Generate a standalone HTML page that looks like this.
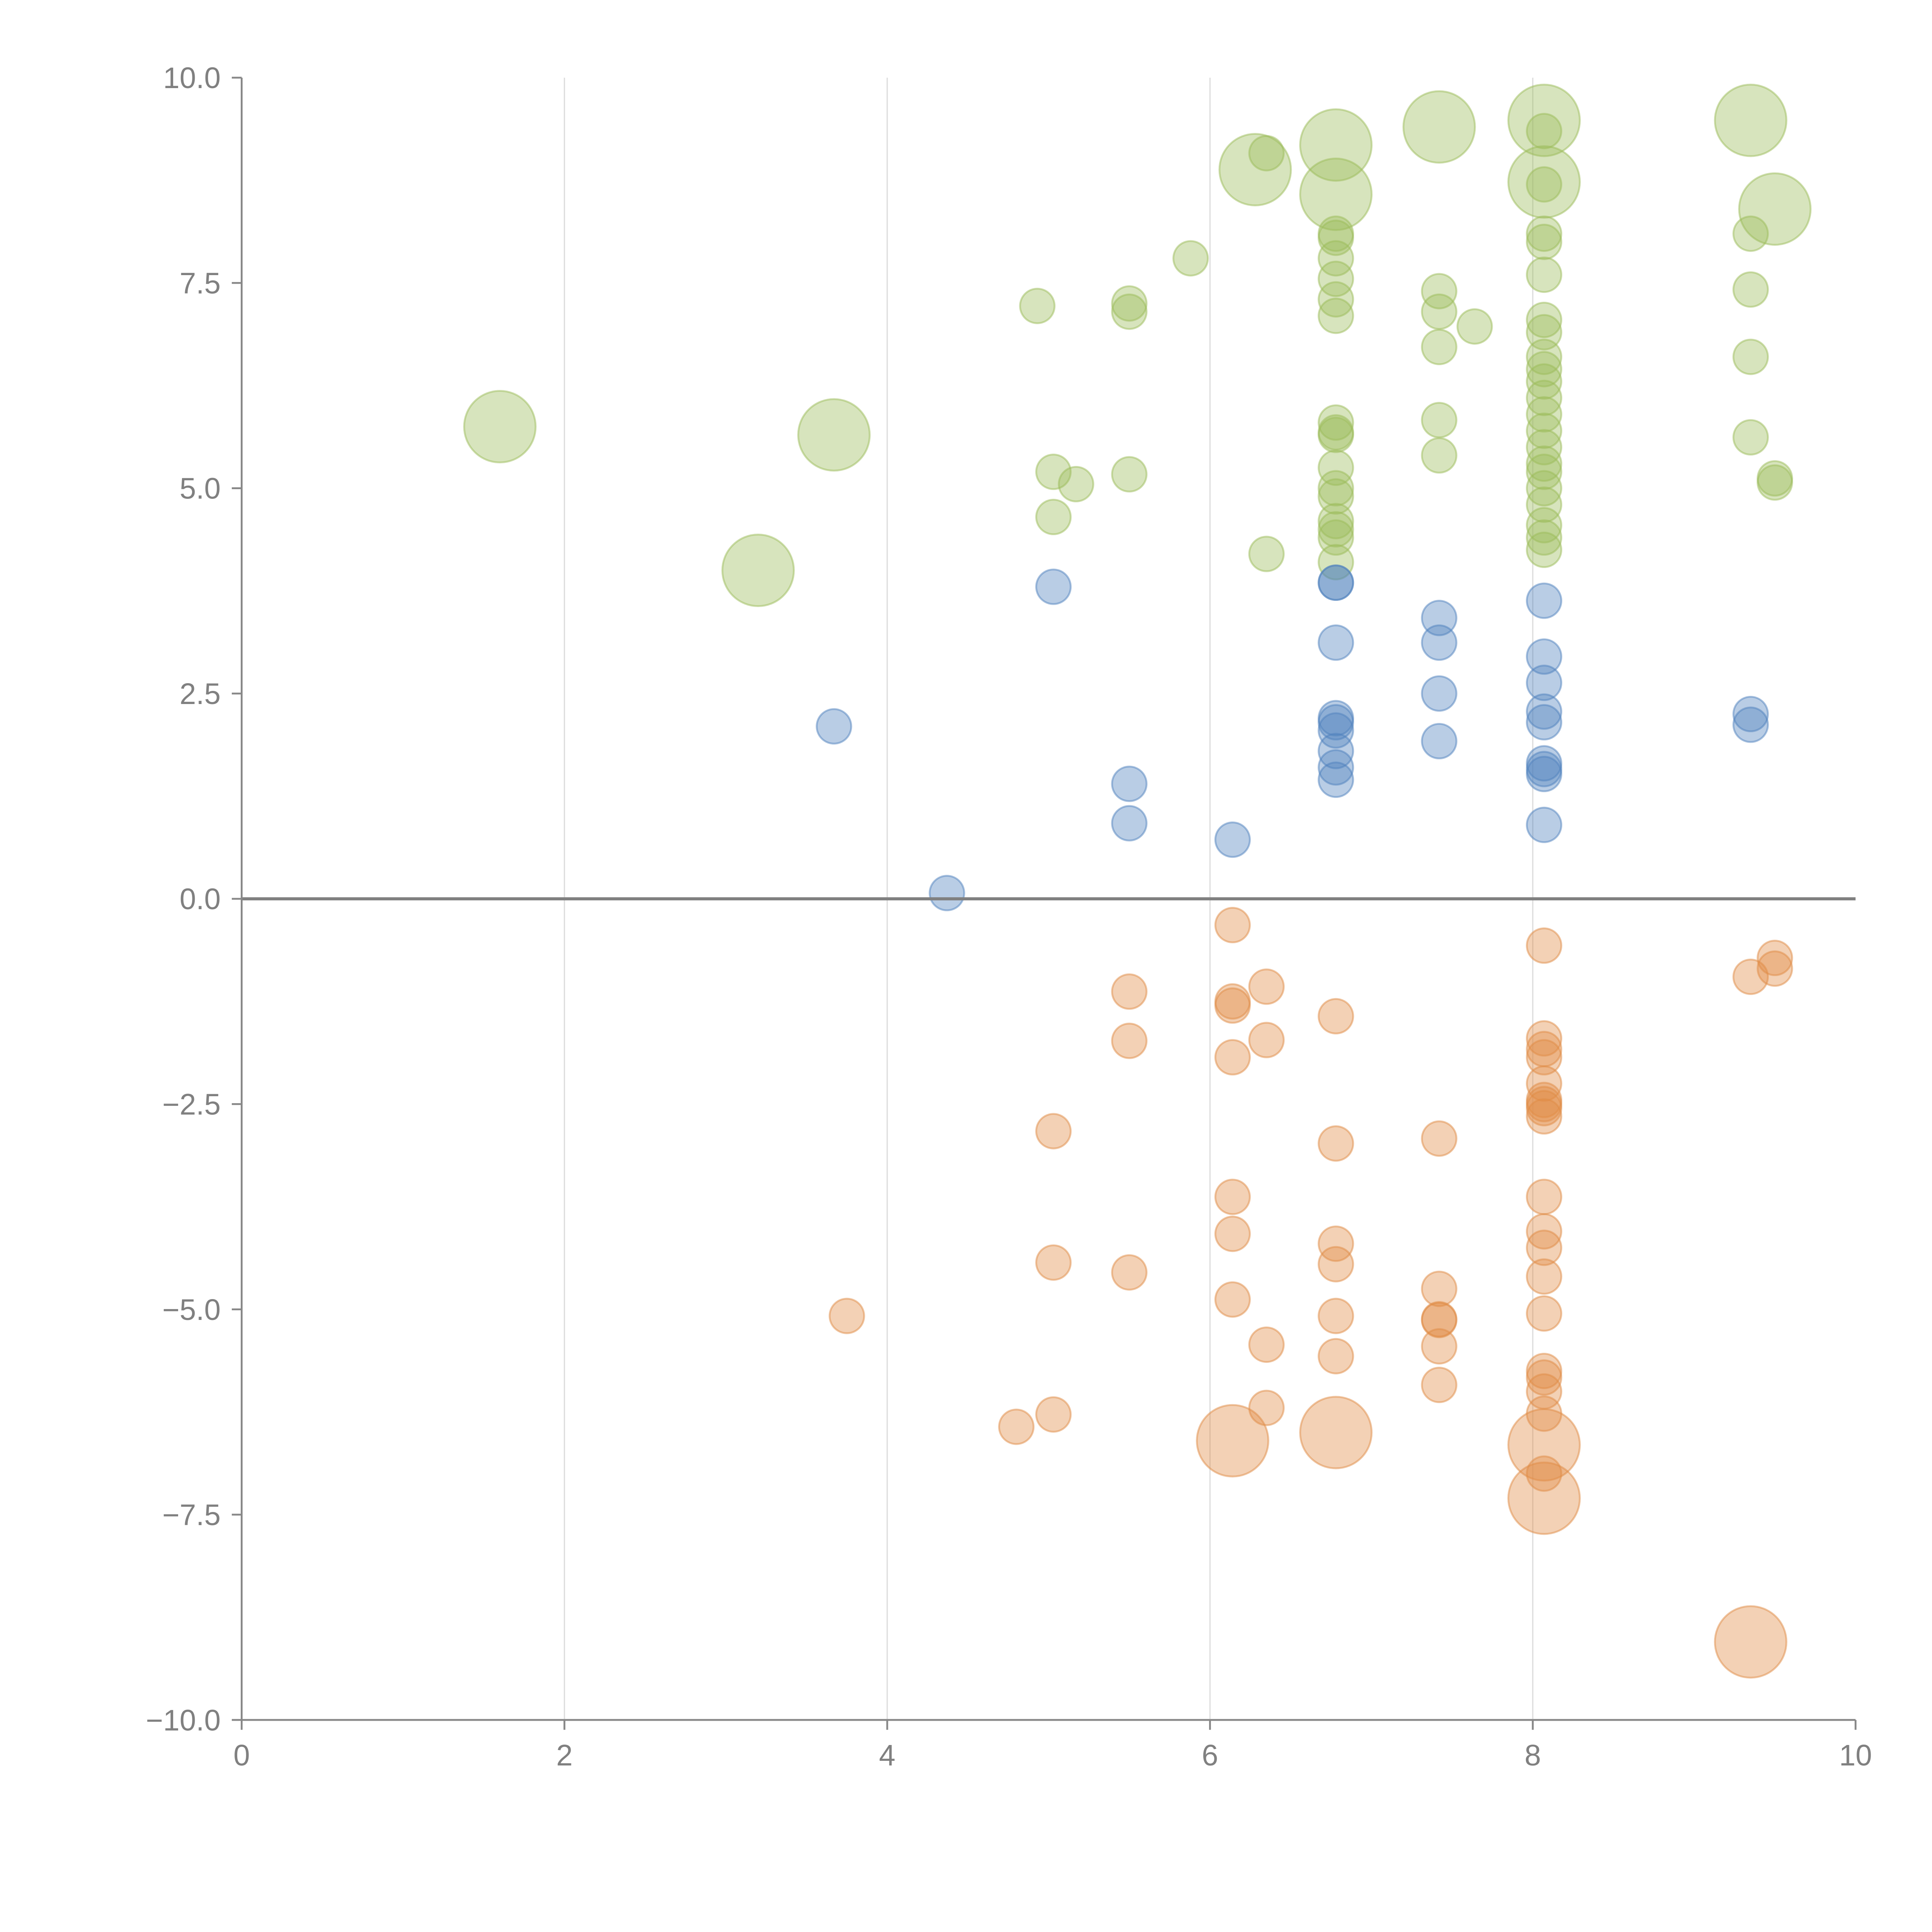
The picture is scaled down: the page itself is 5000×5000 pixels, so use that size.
<!DOCTYPE html>
<html><head><meta charset="utf-8"><style>
html,body{margin:0;padding:0;background:#fff;}
svg{display:block;}
text{font-family:"Liberation Sans",Arial,sans-serif;fill:#808080;}
</style></head><body>
<svg id="chart" width="5000" height="5000" viewBox="0 0 1567 1567" xmlns="http://www.w3.org/2000/svg">
<g id="grid"></g>
<g id="marks"></g>
<g id="axes"></g>
</svg>
<script>
const xTicks=[0,2,4,6,8,10];
const yTicks=[-10,-7.5,-5,-2.5,0,2.5,5,7.5,10];
const yTickLabels=["−10.0","−7.5","−5.0","−2.5","0.0","2.5","5.0","7.5","10.0"];
const greenX=[1.6,3.67,3.2,6.28,6.78,6.78,7.42,8.07,8.07,9.35,9.5,
6.35,5.88,4.93,5.5,5.5,5.03,5.17,5.03,5.5,6.35,
6.78,6.78,6.78,6.78,6.78,6.78,6.78,6.78,6.78,6.78,6.78,6.78,6.78,6.78,6.78,6.78,
7.42,7.42,7.42,7.42,7.42,7.64,
8.07,8.07,8.07,8.07,8.07,8.07,8.07,8.07,8.07,8.07,8.07,8.07,8.07,8.07,8.07,8.07,8.07,8.07,8.07,8.07,8.07,
9.35,9.35,9.35,9.35,9.5,9.5];
const greenY=[5.75,5.65,4.0,8.88,9.18,8.58,9.4,9.48,8.73,9.48,8.4,
9.08,7.8,7.22,7.25,7.15,5.2,5.05,4.65,5.17,4.2,
8.1,8.05,7.8,7.55,7.3,7.1,5.8,5.65,5.68,5.25,5.0,4.9,4.6,4.5,4.4,4.1,
7.4,7.15,6.72,5.83,5.4,6.97,
9.35,8.7,8.1,8.0,7.6,7.05,6.9,6.6,6.45,6.3,6.1,5.9,5.7,5.5,5.3,5.2,5.0,4.8,4.55,4.4,4.25,
8.1,7.42,6.6,5.62,5.12,5.07];
const greenSize=[2,2,2,2,2,2,2,2,2,2,2];
const blueX=[5.03,3.67,5.5,5.5,6.14,4.37,6.78,6.78,6.78,6.78,6.78,6.78,6.78,6.78,6.78,7.42,7.42,7.42,7.42,8.07,8.07,8.07,8.07,8.07,8.07,8.07,8.07,8.07,9.35,9.35];
const blueY=[3.8,2.1,1.4,0.92,0.72,0.07,3.85,3.85,3.12,2.2,2.15,2.05,1.8,1.6,1.45,3.42,3.12,2.5,1.92,3.63,2.95,2.63,2.28,2.15,1.65,1.58,1.52,0.9,2.25,2.12];
const orangeX=[6.14,6.78,8.07,8.07,9.35,
6.14,5.5,5.5,6.14,6.14,6.35,6.35,6.14,6.78,5.03,6.78,7.42,6.14,6.14,6.78,6.78,5.03,5.5,3.75,6.14,6.78,6.78,6.35,6.35,7.42,7.42,7.42,7.42,7.42,4.8,5.03,
8.07,8.07,8.07,8.07,8.07,8.07,8.07,8.07,8.07,8.07,8.07,8.07,8.07,8.07,8.07,8.07,8.07,8.07,8.07,9.35,9.5,9.5];
const orangeY=[-6.6,-6.5,-6.65,-7.3,-9.05,
-0.32,-1.13,-1.73,-1.25,-1.3,-1.07,-1.72,-1.93,-1.43,-2.83,-2.98,-2.92,-3.63,-4.08,-4.2,-4.45,-4.43,-4.55,-5.08,-4.88,-5.08,-5.57,-5.43,-6.2,-4.75,-5.12,-5.13,-5.45,-5.92,-6.43,-6.28,
-0.57,-1.7,-1.83,-1.93,-2.25,-2.45,-2.5,-2.55,-2.65,-3.63,-4.05,-4.25,-4.6,-5.05,-5.75,-5.83,-6.0,-6.27,-7.0,-0.95,-0.72,-0.85];
const orangeBigCount=5;

const X0=196,X1=1505,Y0=1395,Y1=63;
function sx(v){return X0+(v-0)/(10-0)*(X1-X0);}
function sy(v){return Y0-(v+10)/20*(Y0-Y1);}
const NS="http://www.w3.org/2000/svg";
function mk(tag,attrs,parent){const e=document.createElementNS(NS,tag);for(const k in attrs)e.setAttribute(k,attrs[k]);parent.appendChild(e);return e;}
const grid=document.getElementById('grid'),marks=document.getElementById('marks'),axes=document.getElementById('axes');

xTicks.forEach(t=>{if(t>0&&t<10){const l=mk('line',{x1:sx(t),x2:sx(t),y1:Y1,y2:Y0,stroke:'#dddddd','stroke-width':1},grid);

}});

function drawSeries(xs,ys,color,bigCount,name){
  xs.forEach((x,i)=>{
    const r=i<bigCount?29:14;
    const c=mk('circle',{cx:sx(x),cy:sy(ys[i]),r:r,fill:color,'fill-opacity':0.4,stroke:color,'stroke-opacity':0.5,'stroke-width':1.5},marks);
    
    
  });
}
drawSeries(greenX,greenY,'#9bbb59',greenSize.length,'green-bubble');
drawSeries(blueX,blueY,'#4f81bd',0,'blue-bubble');
drawSeries(orangeX,orangeY,'#e08c45',orangeBigCount,'orange-bubble');

const zl=mk('line',{x1:X0,x2:X1,y1:sy(0),y2:sy(0),stroke:'#808080','stroke-width':2.5},axes);


const ya=mk('line',{x1:X0,x2:X0,y1:Y1,y2:Y0,stroke:'#888','stroke-width':1.5},axes);


const xa=mk('line',{x1:X0,x2:X1,y1:Y0,y2:Y0,stroke:'#888','stroke-width':1.5},axes);



yTicks.forEach((t,i)=>{
  const y=sy(t);
  const tk=mk('line',{x1:X0-8,x2:X0,y1:y,y2:y,stroke:'#888','stroke-width':1.5},axes);
  
  
  const tx=mk('text',{x:X0-17,y:y+8.5,'text-anchor':'end','font-size':24},axes);
  tx.textContent=yTickLabels[i];
  
  
});
xTicks.forEach(t=>{
  const x=sx(t);
  const tk=mk('line',{x1:x,x2:x,y1:Y0,y2:Y0+8,stroke:'#888','stroke-width':1.5},axes);
  
  
  const tx=mk('text',{x:x,y:Y0+37,'text-anchor':'middle','font-size':24},axes);
  tx.textContent=String(t);
  
  
});
</script>
</body></html>
